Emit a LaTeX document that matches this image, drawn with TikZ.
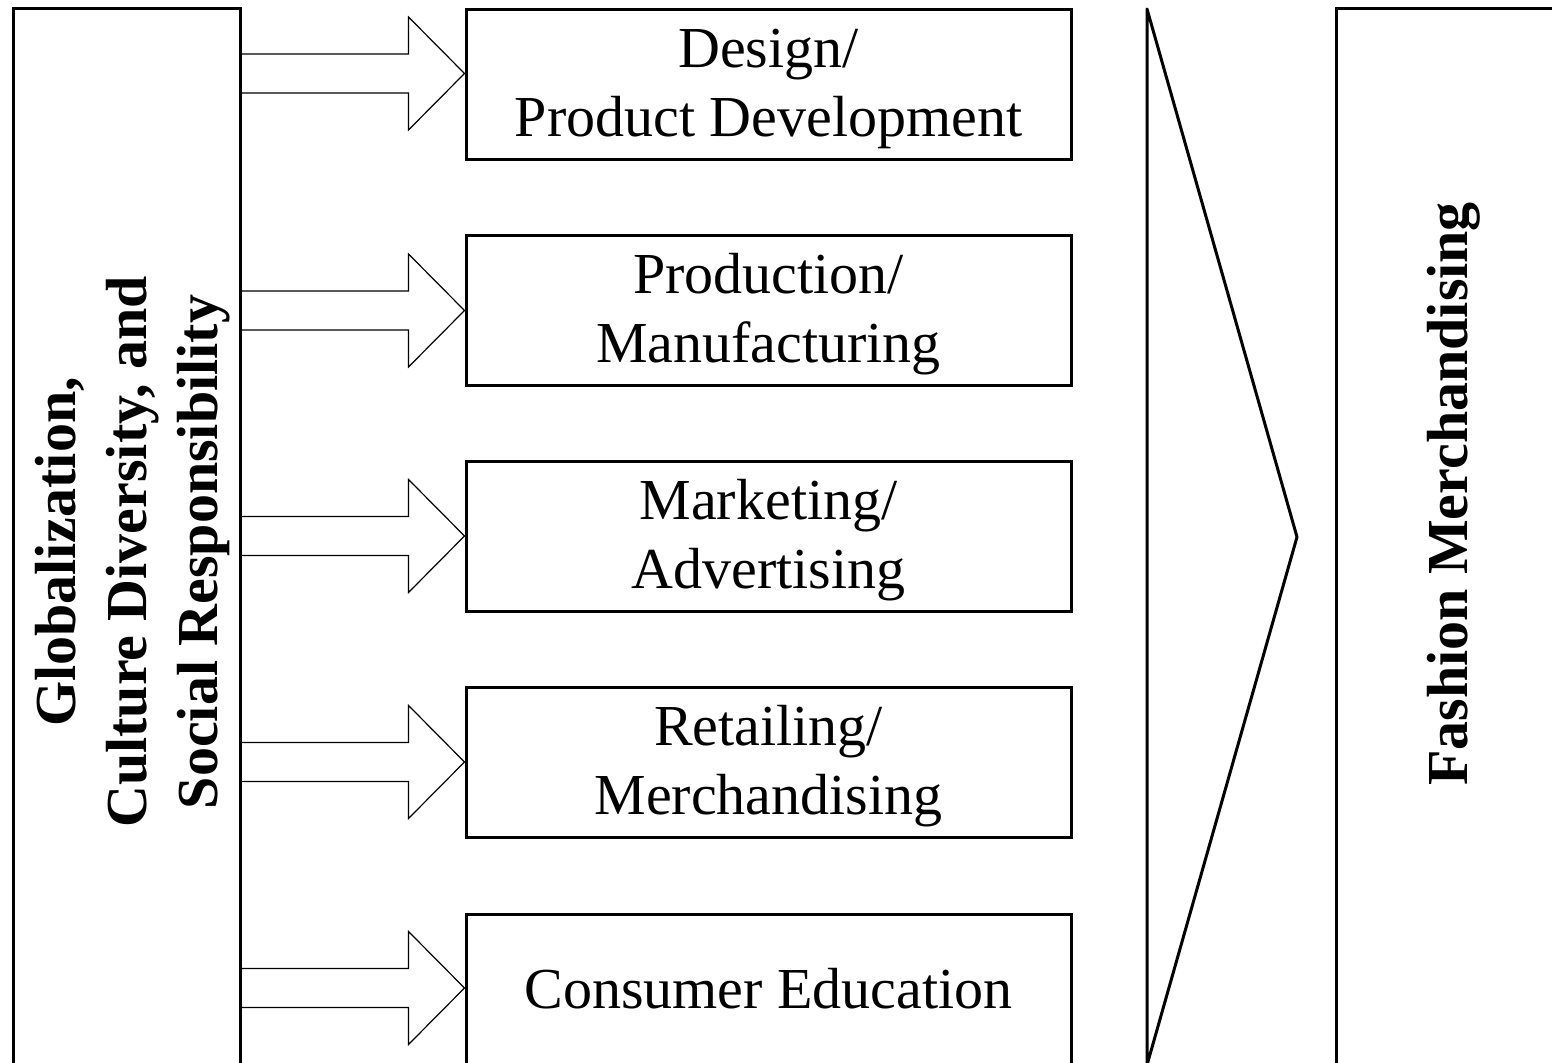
\documentclass[tikz,border=0pt]{standalone}
\usepackage{fontspec}
\setmainfont{Liberation Serif}
\usetikzlibrary{calc}
\newcommand\blockarrowto[2]{%
  \path (#1.north west) ++(0,#2) coordinate (#1tip);
  \draw[blockarr] ($(L.east |- #1tip)+(0,-19.5)$) -- ($(#1tip)+(-56,-19.5)$) -- ($(#1tip)+(-56,-56.5)$) -- (#1tip) -- ($(#1tip)+(-56,56.5)$) -- ($(#1tip)+(-56,19.5)$) -- ($(L.east |- #1tip)+(0,19.5)$);}
\begin{document}
\begin{tikzpicture}[x=0.5pt,y=-0.5pt,
  box/.style={draw, line width=1.5pt, minimum width=302.5pt, minimum height=75pt, inner sep=0pt},
  sidebox/.style={draw, line width=1.5pt, inner sep=0pt},
  boxtext/.style={font=\fontsize{29}{34.5}\selectfont, align=center, inner sep=0pt},
  sidetext/.style={font=\bfseries\fontsize{29}{35.5}\selectfont, align=center, inner sep=0pt, rotate=90},
  blockarr/.style={draw, line width=0.6pt, line join=miter},
  chevron/.style={draw, line width=1.5pt, line join=round}]
\useasboundingbox (0,0) rectangle (1552,1063);
\clip (0,0) rectangle (1552,1063);
% side boxes
\node[sidebox, minimum width=113.5pt, minimum height=540.5pt] (L) at (126.5,549.5) {};
\node[sidebox, minimum width=132pt, minimum height=540.5pt] (R) at (1468,549.5) {};
% chevron
\coordinate (ctop) at (1147,9);
\coordinate (ctip) at (1297,537);
\coordinate (cbot) at (1147,1065);
\draw[chevron] (ctop) -- (ctip) -- (cbot) -- cycle;
% boxes
\node[box] (b1) at (768.5,85) {};
\node[box] (b2) at (768.5,310.5) {};
\node[box] (b3) at (768.5,536.5) {};
\node[box] (b4) at (768.5,762.5) {};
\node[box, minimum height=78pt] (b5) at (768.5,992) {};
% texts
\node[boxtext] (t1) at ($(b1.center)+(0,4)$) {Design/\\Product Development};
\node[boxtext] (t2) at ($(b2.center)+(0,4)$) {Production/\\Manufacturing};
\node[boxtext] (t3) at ($(b3.center)+(0,4)$) {Marketing/\\Advertising};
\node[boxtext] (t4) at ($(b4.center)+(0,4)$) {Retailing/\\Merchandising};
\node[boxtext, anchor=base] (t5) at (768.5,1008) {Consumer Education};
\node[sidetext] (Ltext) at (133,552) {Globalization,\\Culture Diversity, and\\Social Responsibility};
\node[sidetext, anchor=base] (Rtext) at (1467,494) {Fashion Merchandising};
% block arrows
\blockarrowto{b1}{65}
\blockarrowto{b2}{76.5}
\blockarrowto{b3}{76}
\blockarrowto{b4}{76}
\blockarrowto{b5}{75.5}
\end{tikzpicture}
\end{document}
